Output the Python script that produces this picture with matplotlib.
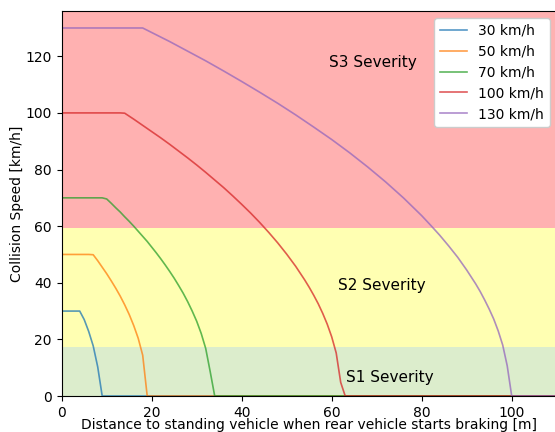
import matplotlib
matplotlib.use("Agg")
import matplotlib.pyplot as plt

labels = ["30 km/h", "50 km/h", "70 km/h", "100 km/h", "130 km/h"]
colors = ["tab:blue", "tab:orange", "tab:green", "tab:red", "tab:purple"]

d30 = [0, 4, 5, 6, 7, 8, 9, 110]
v30 = [30, 30, 27.0, 22.8, 17.7, 10.3, 0, 0]

d50 = [0, 6, 7, 8, 9, 10, 11, 12, 13, 14, 15, 16, 17, 18, 19, 110]
v50 = [50, 50, 49.9, 47.8, 45.5, 43.2, 40.7, 38.1, 35.3, 32.2, 28.8, 24.9, 20.4, 14.4, 0, 0]

d70 = [0, 9, 10, 11, 12, 13, 14, 15, 16, 17, 18, 19, 20, 21, 22, 23, 24, 25,
       26, 27, 28, 29, 30, 31, 32, 33, 34, 110]
v70 = [70, 70, 69.6, 68.1, 66.5, 65.0, 63.3, 61.7, 60.0, 58.2, 56.4, 54.6, 52.6,
       50.6, 48.5, 46.3, 44.0, 41.6, 39.0, 36.3, 33.3, 30.0, 26.4, 22.1, 16.8,
       8.6, 0, 0]

d100 = [0, 13, 14, 16, 18, 20, 22, 24, 26, 28, 30, 32, 34, 36, 38, 40, 42, 44,
        46, 48, 50, 52, 54, 55, 56, 57, 58, 59, 60, 61, 62, 63, 110]
v100 = [100, 100, 99.9, 97.8, 95.6, 93.4, 91.2, 88.9, 86.5, 84.1, 81.6, 79.0,
        76.3, 73.6, 70.7, 67.7, 64.6, 61.3, 57.8, 54.1, 50.1, 45.8, 41.0, 38.4,
        35.6, 32.6, 29.2, 25.4, 20.9, 15.2, 4.8, 0, 0]

d130 = [0, 18, 20, 24, 28, 32, 36, 40, 44, 48, 52, 56, 60, 64, 68, 72, 76, 80,
        82, 84, 86, 88, 90, 92, 93, 94, 95, 96, 97, 98, 99, 100, 110]
v130 = [130, 130, 128.4, 125.2, 121.8, 118.4, 114.8, 111.1, 107.3, 103.4, 99.3,
        95.0, 90.6, 85.9, 80.9, 75.6, 69.9, 63.7, 60.3, 56.8, 53.0, 49.0, 44.5,
        39.6, 36.9, 33.9, 30.7, 27.2, 23.0, 18.0, 10.7, 0, 0]

distances = [d30, d50, d70, d100, d130]
speeds = [v30, v50, v70, v100, v130]

band_edges = [0, 17.4, 59.2, 136]
band_colors = ["#dcedcc", "#ffffb2", "#ffb1b1"]
band_texts = ["S1 Severity", "S2 Severity", "S3 Severity"]
text_pos = [(63.2, 5.0), (61.4, 37.4), (59.5, 116.2)]

fig = plt.figure(figsize=(5.55, 4.32), dpi=100)
ax = fig.add_axes([61.7 / 555, 36 / 432, 495 / 555, 385 / 432])

for i in range(3):
    ax.axhspan(band_edges[i], band_edges[i + 1], color=band_colors[i], lw=0, zorder=0)
    ax.text(text_pos[i][0], text_pos[i][1], band_texts[i], fontsize=11, color="black")

for d, v, lab, c in zip(distances, speeds, labels, colors):
    ax.plot(d, v, color=c, alpha=0.75, lw=1.2, label=lab)

ax.set_xlim(0, 110)
ax.set_ylim(0, 136)
ax.set_xticks([0, 20, 40, 60, 80, 100])
ax.set_yticks([0, 20, 40, 60, 80, 100, 120])
ax.set_xlabel("Distance to standing vehicle when rear vehicle starts braking [m]", labelpad=-1)
ax.set_ylabel("Collision Speed [km/h]", labelpad=1)
ax.legend(loc="upper right", framealpha=1)

fig.savefig("out.png", dpi=100)
